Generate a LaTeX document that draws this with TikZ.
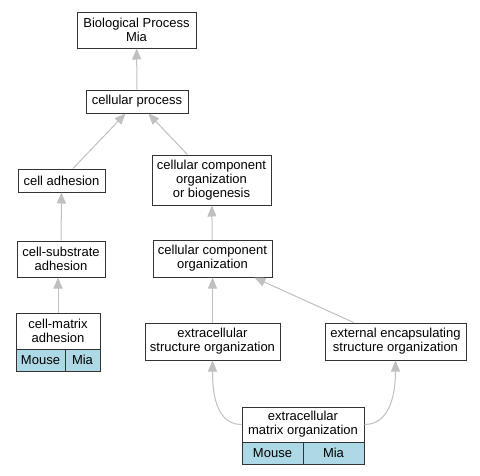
\documentclass[tikz,border=0pt]{standalone}
\usepackage{fontspec}
\setmainfont{Liberation Sans}
\usetikzlibrary{arrows.meta}
\definecolor{edgegray}{HTML}{C0C0C0}
\definecolor{orgblue}{HTML}{ADD8E6}

\begin{document}
\begin{tikzpicture}[x=1pt,y=-1pt,
  term/.style={draw=black!80, line width=1pt, fill=white, align=center, inner sep=0pt,
    font=\fontsize{13}{14}\selectfont},
  org/.style={term, fill=orgblue, minimum height=22pt},
  isa/.style={draw=edgegray, line width=1pt, -{Triangle[length=11pt,width=9pt]}}]
\useasboundingbox (0,0) rectangle (480,475);
% terms
\node[term, minimum width=119pt, minimum height=36pt] (bp) at (136.5,30) {Biological Process\\Mia};
\node[term, minimum width=102pt, minimum height=23pt] (cp) at (137,101.5) {cellular process};
\node[term, minimum width=87pt, minimum height=23pt] (ca) at (61.5,180.5) {cell adhesion};
\node[term, minimum width=119pt, minimum height=50pt] (ccob) at (211.5,180) {cellular component\\organization\\or biogenesis};
\node[term, minimum width=88pt, minimum height=36pt] (csa) at (61,259) {cell-substrate\\adhesion};
\node[term, minimum width=119pt, minimum height=37pt] (cco) at (212.5,258.5) {cellular component\\organization};
\node[term, minimum width=84pt, minimum height=36pt] (cma) at (58,331) {cell-matrix\\adhesion};
\node[org, minimum width=49pt] (cmaMouse) at (40.5,360) {Mouse};
\node[org, minimum width=35pt] (cmaMia) at (82.5,360) {Mia};
\node[term, minimum width=135pt, minimum height=37pt] (eso) at (212.5,341.5) {extracellular\\structure organization};
\node[term, minimum width=141pt, minimum height=37pt] (eeso) at (395.5,341.5) {external encapsulating\\structure organization};
\node[term, minimum width=122pt, minimum height=35pt] (ecm) at (303,424.5) {extracellular\\matrix organization};
\node[org, minimum width=61pt] (ecmMouse) at (272.5,453) {Mouse};
\node[org, minimum width=61pt] (ecmMia) at (333.5,453) {Mia};
% is_a edges
\draw[isa] (cp) -- (bp);
\draw[isa] (ca) -- (cp);
\draw[isa] (ccob) -- (cp);
\draw[isa] (csa) -- (ca);
\draw[isa] (cma.north) -- (cma.north |- csa.south);
\draw[isa] (cco) -- (ccob);
\draw[isa] (eso) -- (cco);
\draw[isa] (eeso) -- (cco);
\draw[isa] (ecm.west) to[out=180, in=-90] (eso.south);
\draw[isa] (ecm.east) to[out=0, in=-90] (eeso.south);
\end{tikzpicture}
\end{document}
